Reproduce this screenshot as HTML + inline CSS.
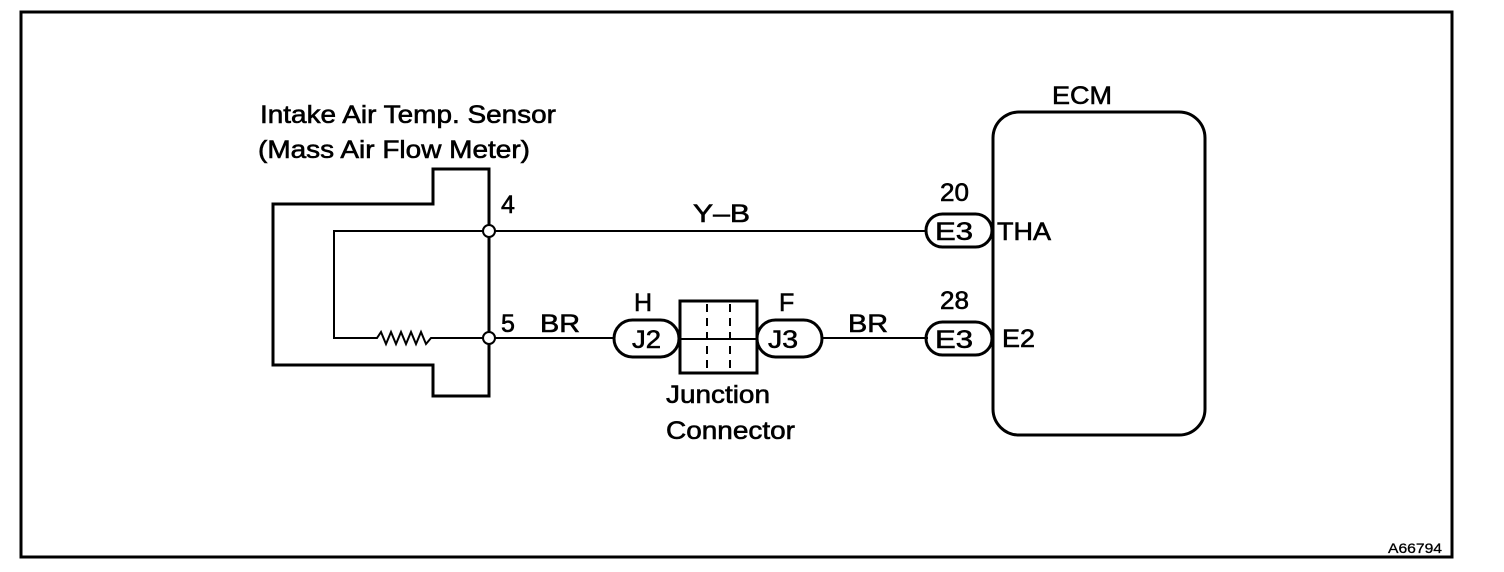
<!DOCTYPE html>
<html><head><style>
body{margin:0;background:#fff;}
svg{display:block;}
text{font-family:"Liberation Sans",sans-serif;fill:#000;stroke:#000;stroke-width:0.6;}
</style></head><body>
<svg width="1504" height="572" viewBox="0 0 1504 572">
<rect x="21" y="12" width="1431" height="545" fill="none" stroke="#000" stroke-width="3"/>
<g fill="none" stroke="#000">
<path d="M489,169 H433 V204 H273 V365 H433 V396 H489 Z" stroke-width="3"/>
<path d="M489,231 H334 V338 H377 l4,-6 5,12 5,-12 5,12 5,-12 5,12 5,-12 5,12 5,-12 5,12 5,-6 H489" stroke-width="2"/>
<line x1="489" y1="231" x2="926" y2="231" stroke-width="2"/>
<line x1="489" y1="338" x2="614" y2="338" stroke-width="2"/>
<line x1="822" y1="338" x2="928" y2="338" stroke-width="2"/>
<rect x="614" y="320" width="65" height="37" rx="18.5" stroke-width="3"/>
<rect x="757" y="320" width="65" height="37" rx="18.5" stroke-width="3"/>
<rect x="680" y="301" width="77" height="72" stroke-width="3"/>
<line x1="680" y1="339" x2="757" y2="339" stroke-width="2"/>
<line x1="707" y1="304" x2="707" y2="370" stroke-width="2" stroke-dasharray="8,6"/>
<line x1="730" y1="304" x2="730" y2="370" stroke-width="2" stroke-dasharray="8,6"/>
<rect x="926" y="214" width="66" height="33" rx="16.5" stroke-width="3"/>
<rect x="926" y="322" width="66" height="33" rx="16.5" stroke-width="3"/>
<rect x="993" y="112" width="212" height="323" rx="26" stroke-width="3"/>
</g>
<circle cx="489" cy="231" r="6" fill="#fff" stroke="#000" stroke-width="2"/>
<circle cx="489" cy="338" r="6" fill="#fff" stroke="#000" stroke-width="2"/>
<g font-size="25">
<text x="260" y="123" textLength="296" lengthAdjust="spacingAndGlyphs">Intake Air Temp. Sensor</text>
<text x="258" y="158" textLength="272" lengthAdjust="spacingAndGlyphs">(Mass Air Flow Meter)</text>
<text x="501" y="213">4</text>
<text x="501" y="332">5</text>
<text x="540" y="332" textLength="40" lengthAdjust="spacingAndGlyphs">BR</text>
<text x="693" y="222" textLength="57" lengthAdjust="spacingAndGlyphs">Y–B</text>
<text x="634" y="311">H</text>
<text x="779" y="311">F</text>
<text x="848" y="332" textLength="40" lengthAdjust="spacingAndGlyphs">BR</text>
<text x="666" y="403" textLength="104" lengthAdjust="spacingAndGlyphs">Junction</text>
<text x="666" y="439" textLength="129" lengthAdjust="spacingAndGlyphs">Connector</text>
<text x="940" y="201" textLength="29" lengthAdjust="spacingAndGlyphs">20</text>
<text x="940" y="309" textLength="29" lengthAdjust="spacingAndGlyphs">28</text>
<text x="1052" y="104" textLength="60" lengthAdjust="spacingAndGlyphs">ECM</text>
<text x="997" y="240" textLength="54" lengthAdjust="spacingAndGlyphs">THA</text>
<text x="1002" y="347" textLength="33" lengthAdjust="spacingAndGlyphs">E2</text>
<text x="632" y="348" textLength="29" lengthAdjust="spacingAndGlyphs">J2</text>
<text x="768" y="348" textLength="30" lengthAdjust="spacingAndGlyphs">J3</text>
<text x="935" y="240" textLength="38" lengthAdjust="spacingAndGlyphs">E3</text>
<text x="935" y="348" textLength="38" lengthAdjust="spacingAndGlyphs">E3</text>
</g>
<text x="1388" y="553" font-size="14" textLength="54" lengthAdjust="spacingAndGlyphs" style="stroke-width:0.3">A66794</text>
</svg>
</body></html>
